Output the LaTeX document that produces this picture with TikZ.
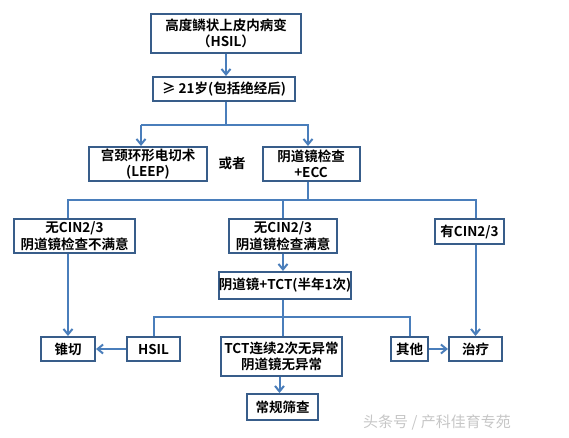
\documentclass[tikz,border=0pt]{standalone}
\usepackage{fontspec}
\setmainfont{Noto Sans CJK SC}[BoldFont={* Bold}]
\usetikzlibrary{arrows.meta}
\definecolor{boxblue}{RGB}{56,93,138}
\definecolor{lineblue}{RGB}{74,126,187}
\begin{document}
\begin{tikzpicture}[
		x=1pt, y=-1pt,
		>={Straight Barb[length=5.5pt,width=9pt]},
		every node/.style={font=\fontsize{13.5}{16.5}\selectfont\bfseries, align=center},
		box/.style={rectangle, draw=boxblue, line width=2pt, fill=white, inner sep=0pt},
		link/.style={draw=lineblue, line width=2pt}
	]
	\useasboundingbox (0,0) rectangle (569,437);

	\node[box, minimum width=150pt, minimum height=39pt] (hsiltop) at (226,33.5) {高度鳞状上皮内病变\\（HSIL）};
	\node[box, minimum width=142pt, minimum height=24pt] (age) at (224,89) {≥ 21岁(包括绝经后)};
	\node[box, minimum width=118pt, minimum height=34pt] (leep) at (148,164) {宫颈环形电切术\\(LEEP)};
	\node (orword) at (232,163) {或者};
	\node[box, minimum width=97pt, minimum height=34pt] (colpo) at (311,164) {阴道镜检查\\+ECC};
	\node[box, minimum width=121pt, minimum height=34pt] (unsat) at (74.5,236) {无CIN2/3\\阴道镜检查不满意};
	\node[box, minimum width=108pt, minimum height=34pt] (sat) at (283,236) {无CIN2/3\\阴道镜检查满意};
	\node[box, minimum width=69pt, minimum height=25pt] (cin) at (469.5,231.5) {有CIN2/3};
	\node[box, minimum width=130pt, minimum height=27pt] (follow) at (285,285.5) {阴道镜+TCT(半年1次)};
	\node[box, minimum width=54pt, minimum height=24pt] (cone) at (68,349) {锥切};
	\node[box, minimum width=53pt, minimum height=24pt] (hsil) at (153.5,349) {HSIL};
	\node[box, minimum width=121pt, minimum height=39pt] (normal) at (281.5,356.5) {TCT连续2次无异常\\阴道镜无异常};
	\node[box, minimum width=37pt, minimum height=24pt] (other) at (409.5,349) {其他};
	\node[box, minimum width=53pt, minimum height=24pt] (treat) at (475.5,349) {治疗};
	\node[box, minimum width=71pt, minimum height=26pt] (screen) at (282.5,407) {常规筛查};
	\node[font=\fontsize{15}{17}\selectfont, text=gray!45] (mark) at (437,422) {头条号 / 产科佳育专苑};

	\coordinate (rowa) at (0,125);
	\coordinate (rowb) at (0,200);
	\coordinate (rowc) at (0,317);

	\draw[link, ->] (hsiltop.south) -- (hsiltop.south |- age.north);
	\draw[link] (hsiltop.south |- age.south) -- (hsiltop.south |- rowa);
	\draw[link, ->] ([xshift=-7pt]leep.north |- rowa) -- ([xshift=-7pt]leep.north);
	\draw[link, ->] ([xshift=-7pt]leep.north |- rowa) -- ([xshift=-3pt]colpo.north |- rowa) -- ([xshift=-3pt]colpo.north);
	\draw[link] ([xshift=-3pt]colpo.south) -- ([xshift=-3pt]colpo.south |- rowb);
	\draw[link] (cone.north |- unsat.north) -- (cone.north |- rowb) -- (treat.north |- rowb) -- (treat.north |- cin.north);
	\draw[link] (sat.north) -- (sat.north |- rowb);
	\draw[link, ->] (cone.north |- unsat.south) -- (cone.north);
	\draw[link, ->] (treat.north |- cin.south) -- (treat.north);
	\draw[link, ->] (sat.south) -- (sat.south |- follow.north);
	\draw[link] (sat.south |- follow.south) -- (sat.south |- normal.north);
	\draw[link] (hsil.north) |- (other.north |- rowc) -- (other.north);
	\draw[link, ->] (hsil) -- (cone);
	\draw[link, ->] (other) -- (treat);
	\draw[link, ->] ([xshift=-2pt]normal.south) -- ([xshift=-2pt]normal.south |- screen.north);
\end{tikzpicture}
\end{document}
